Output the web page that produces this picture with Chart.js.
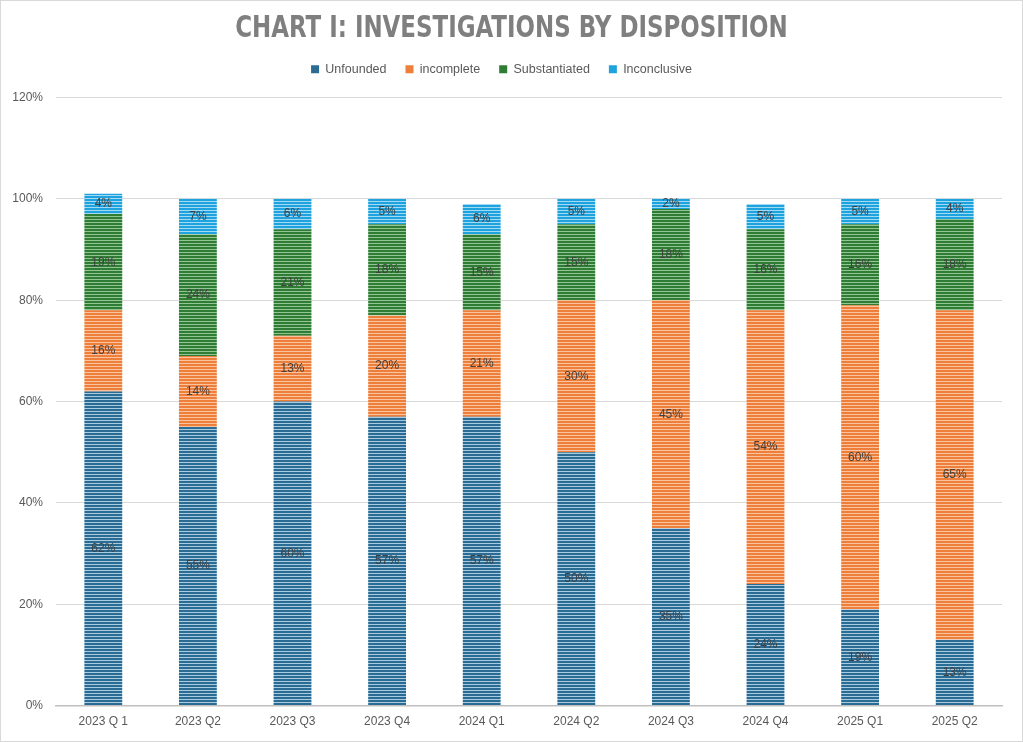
<!DOCTYPE html>
<html>
<head>
<meta charset="utf-8">
<script src="https://cdn.jsdelivr.net/npm/chart.js@4.4.1/dist/chart.umd.min.js"></script>
<style>
  html, body { margin: 0; padding: 0; background: #fff; }
  #wrap { width: 1021px; height: 740px; border: 1px solid #d9d9d9; position: relative; }
  canvas { display: block; }
</style>
</head>
<body>
<div id="wrap"><canvas id="chart" width="1021" height="740"></canvas></div>
<script>
const quarters = ["2023 Q 1", "2023 Q2", "2023 Q3", "2023 Q4", "2024 Q1", "2024 Q2", "2024 Q3", "2024 Q4", "2025 Q1", "2025 Q2"];
const unfounded = [62, 55, 60, 57, 57, 50, 35, 24, 19, 13];
const incomplete = [16, 14, 13, 20, 21, 30, 45, 54, 60, 65];
const substantiated = [19, 24, 21, 18, 15, 15, 18, 16, 16, 18];
const inconclusive = [4, 7, 6, 5, 6, 5, 2, 5, 5, 4];
const yTicks = [0, 20, 40, 60, 80, 100, 120];

const titleText = "CHART I: INVESTIGATIONS BY DISPOSITION";
const textColor = "#595959";
const labelFont = "'Liberation Sans', Arial, sans-serif";

// horizontal stripe fill like the original pattern fill
function stripes(base, light) {
  const c = document.createElement("canvas");
  c.width = 4;
  c.height = 3;
  const g = c.getContext("2d");
  g.fillStyle = base;
  g.fillRect(0, 0, 4, 3);
  g.fillStyle = light;
  g.fillRect(0, 2, 4, 1);
  return g.createPattern(c, "repeat");
}

const fills = {
  unfounded: stripes("#2a6c94", "#a9cbe0"),
  incomplete: stripes("#ee7f3b", "#fac4a0"),
  substantiated: stripes("#2f7d34", "#93c494"),
  inconclusive: stripes("#1fa3df", "#a3daf3"),
};

const legendColors = ["#2a6c94", "#ee7f3b", "#2f7d34", "#1fa3df"];

const barLabels = {
  id: "barLabels",
  afterInit(chart) {
    // leave a bit more room under the legend
    const fit = chart.legend.fit;
    chart.legend.fit = function () {
      fit.call(this);
      this.height += 12;
    };
  },
  afterDatasetsDraw(chart) {
    const ctx = chart.ctx;
    ctx.save();
    ctx.font = "12px " + labelFont;
    ctx.fillStyle = "#404040";
    ctx.textAlign = "center";
    ctx.textBaseline = "middle";
    chart.data.datasets.forEach((ds, i) => {
      chart.getDatasetMeta(i).data.forEach((bar, j) => {
        const v = ds.data[j];
        if (!v) return;
        ctx.fillText(v + "%", bar.x, (bar.y + bar.base) / 2);
      });
    });
    ctx.restore();
  },
  afterDraw(chart) {
    // title drawn by hand so it can be stretched a little taller
    const ctx = chart.ctx;
    ctx.save();
    ctx.translate(chart.width / 2, 28);
    ctx.scale(1, 1.16);
    ctx.font = "bold 25.5px 'DejaVu Sans Condensed', 'DejaVu Sans', sans-serif";
    ctx.fillStyle = "#7f7f7f";
    ctx.textAlign = "center";
    ctx.textBaseline = "middle";
    ctx.fillText(titleText, 0, 0);
    ctx.restore();
  },
};

function makeSet(label, data, fill) {
  return {
    label: label,
    data: data,
    backgroundColor: fill,
    borderWidth: 0,
    barPercentage: 0.4,
    categoryPercentage: 1.0,
  };
}

new Chart(document.getElementById("chart"), {
  type: "bar",
  data: {
    labels: quarters,
    datasets: [
      makeSet("Unfounded", unfounded, fills.unfounded),
      makeSet("incomplete", incomplete, fills.incomplete),
      makeSet("Substantiated", substantiated, fills.substantiated),
      makeSet("Inconclusive", inconclusive, fills.inconclusive),
    ],
  },
  options: {
    responsive: false,
    animation: false,
    layout: { padding: { left: 0, right: 20, top: 43, bottom: 11 } },
    plugins: {
      title: { display: false },
      legend: {
        position: "top",
        labels: {
          color: textColor,
          font: { family: labelFont, size: 12.5 },
          boxWidth: 8,
          boxHeight: 8,
          padding: 19,
          generateLabels(chart) {
            return chart.data.datasets.map((ds, i) => ({
              text: ds.label,
              fillStyle: legendColors[i],
              strokeStyle: legendColors[i],
              lineWidth: 0,
              fontColor: textColor,
              datasetIndex: i,
            }));
          },
        },
      },
      tooltip: { enabled: false },
    },
    scales: {
      x: {
        stacked: true,
        grid: { display: false },
        border: { color: "#bfbfbf", width: 1.5 },
        ticks: { color: textColor, font: { family: labelFont, size: 12 }, padding: 1 },
      },
      y: {
        stacked: true,
        min: 0,
        max: 120,
        afterBuildTicks(scale) {
          scale.ticks = yTicks.map((v) => ({ value: v }));
        },
        afterFit(scale) {
          scale.width = 55;
        },
        grid: { color: "#d9d9d9", drawTicks: false },
        border: { display: false },
        ticks: {
          color: textColor,
          font: { family: labelFont, size: 12 },
          padding: 13,
          callback: (v) => v + "%",
        },
      },
    },
  },
  plugins: [barLabels],
});
</script>
</body>
</html>
